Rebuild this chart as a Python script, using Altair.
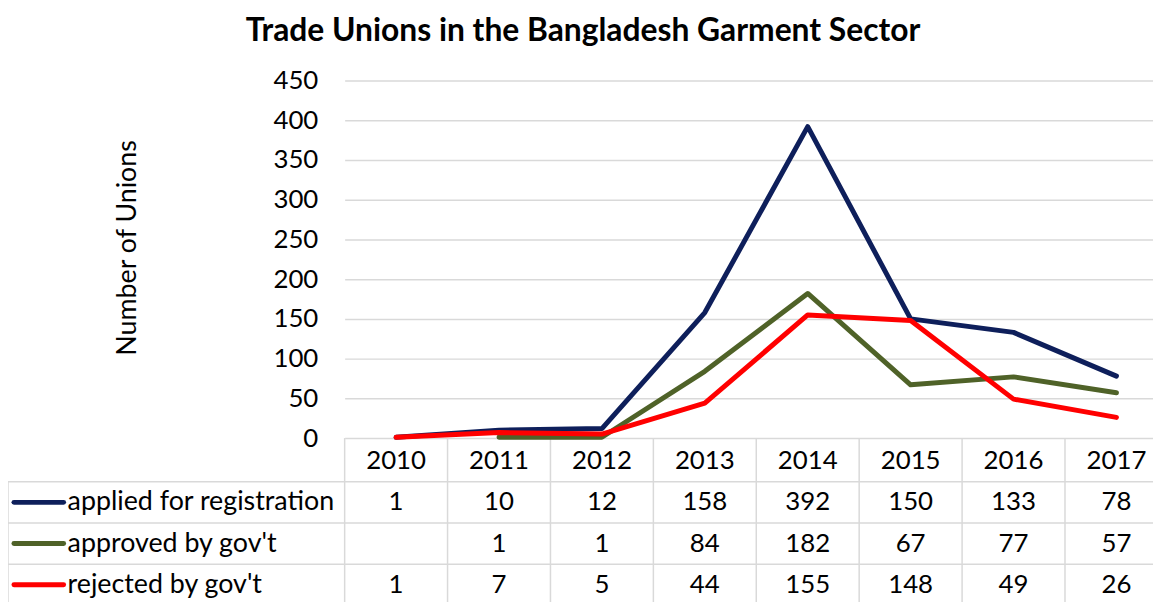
import altair as alt
import pandas as pd

# ---- data ----
years = ["2010", "2011", "2012", "2013", "2014", "2015", "2016", "2017"]
series_names = ["applied for registration", "approved by gov't", "rejected by gov't"]
applied = [1, 10, 12, 158, 392, 150, 133, 78]
approved = [None, 1, 1, 84, 182, 67, 77, 57]
rejected = [1, 7, 5, 44, 155, 148, 49, 26]
series_colors = ["#0e1f5b", "#4f6228", "#ff0000"]
y_ticks = [0, 50, 100, 150, 200, 250, 300, 350, 400, 450]
title_text = "Trade Unions in the Bangladesh Garment Sector"
y_title = "Number of Unions"

# ---- layout constants ----
W = 814          # visible plot width (the last column is cut by the page edge, as in the reference)
X_RANGE = 829    # full width of the eight year columns
H = 360
HEADER_Y = 383
ROW_TOP = 404
ROW_H = 41.5
TABLE_LEFT = -339
FONT = "Lato"
FS = 26
FS_TEXT = 27
GRID = "#d9d9d9"

records = []
for name, vals in zip(series_names, [applied, approved, rejected]):
    for yr, v in zip(years, vals):
        records.append({"year": yr, "series": name, "value": v,
                        "label": "" if v is None else str(v)})
df = pd.DataFrame(records)
year_df = pd.DataFrame({"year": years})
one = pd.DataFrame({"k": [0]})

x_scale = alt.Scale(type="band", domain=years, paddingInner=0, paddingOuter=0, range=[0, X_RANGE])
x_center = alt.X("year:N", scale=x_scale, axis=None, bandPosition=0.5)
x_edge = alt.X("year:N", scale=x_scale, axis=None, bandPosition=0)

lines = alt.Chart(df).mark_line(strokeWidth=5, strokeCap="round", strokeJoin="round").encode(
    x=x_center,
    y=alt.Y("value:Q", scale=alt.Scale(domain=[0, 450], nice=False),
            axis=alt.Axis(values=y_ticks, title=y_title, grid=True, gridColor=GRID, gridWidth=1.5,
                          domain=False, ticks=False, tickSize=0, labelPadding=27,
                          labelFont=FONT, labelFontSize=FS, labelColor="black",
                          titleFont=FONT, titleFontSize=FS_TEXT, titleFontWeight="normal",
                          titleColor="black", titleX=-219, titleY=168, titleBaseline="middle")),
    color=alt.Color("series:N", scale=alt.Scale(domain=series_names, range=series_colors), legend=None),
)

year_text = alt.Chart(year_df).mark_text(font=FONT, fontSize=FS, color="black",
                                         baseline="middle", align="center").encode(
    x=x_center, y=alt.value(HEADER_Y), text="year:N")

bottom = ROW_TOP + 3 * ROW_H + 10
vrules = alt.Chart(year_df).mark_rule(color=GRID, strokeWidth=1.5).encode(
    x=x_edge, y=alt.value(H), y2=alt.value(bottom))
left_rule = alt.Chart(one).mark_rule(color=GRID, strokeWidth=1.5).encode(
    x=alt.value(TABLE_LEFT), y=alt.value(ROW_TOP), y2=alt.value(bottom))

layers = [vrules, left_rule]
for i in range(3):
    yy = ROW_TOP + i * ROW_H
    layers.append(alt.Chart(one).mark_rule(color=GRID, strokeWidth=1.5).encode(
        x=alt.value(TABLE_LEFT), x2=alt.value(X_RANGE), y=alt.value(yy)))

layers += [lines, year_text]

for i, (name, color) in enumerate(zip(series_names, series_colors)):
    cy = ROW_TOP + ROW_H * (i + 0.5)
    row_df = df[df.series == name]
    layers.append(alt.Chart(row_df).mark_text(font=FONT, fontSize=FS, color="black",
                                              baseline="middle", align="center").encode(
        x=x_center, y=alt.value(cy), text="label:N"))
    key_df = pd.DataFrame({"series": [name]})
    layers.append(alt.Chart(key_df).mark_rule(color=color, strokeWidth=5, strokeCap="round").encode(
        x=alt.value(-333), x2=alt.value(-283), y=alt.value(cy)))
    layers.append(alt.Chart(key_df).mark_text(font=FONT, fontSize=FS_TEXT, color="black",
                                              baseline="middle", align="left").encode(
        x=alt.value(-279), y=alt.value(cy), text="series:N"))

chart = alt.layer(*layers).properties(
    width=W, height=H,
    title=alt.TitleParams(title_text, font=FONT, fontSize=32, fontWeight="bold", color="black",
                          anchor="middle", frame="group", offset=20, dx=-167),
    padding={"top": 71, "left": 339, "right": 0, "bottom": 163},
    autosize=alt.AutoSizeParams(type="none"),
    background="white",
).configure_view(stroke=None)

chart.save("out.html", embed_options={"renderer": "svg", "actions": False})
